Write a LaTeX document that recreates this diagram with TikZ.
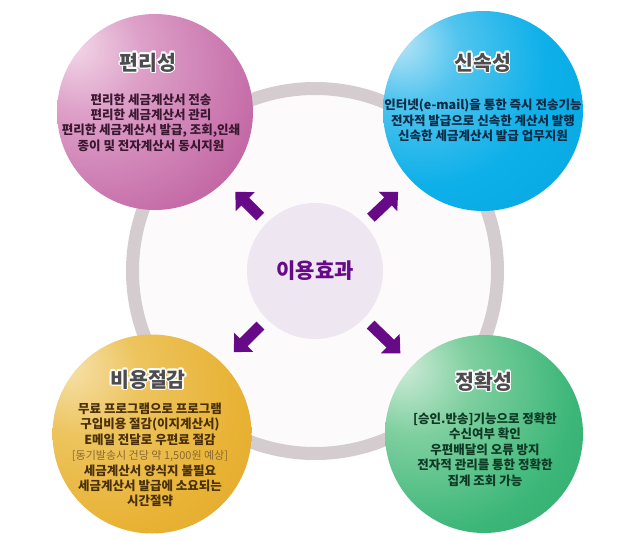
\documentclass[tikz,border=0pt]{standalone}
\usepackage{fontspec}
\setmainfont{Noto Sans CJK KR}
\usepackage{contour}
\contourlength{1.3pt}
\usetikzlibrary{positioning}
\usetikzlibrary{calc}
\usetikzlibrary{arrows.meta}

\definecolor{ringgray}{HTML}{D4CCCF}
\definecolor{ringfill}{HTML}{FDFAFC}
\definecolor{hubfill}{HTML}{EEE6F1}
\definecolor{arrowpurple}{HTML}{660A88}
\definecolor{titlegray}{HTML}{4D4D4F}
\definecolor{pinktext}{HTML}{3A1830}
\definecolor{bluetext}{HTML}{0B2A45}
\definecolor{goldtext}{HTML}{4A3008}
\definecolor{goldfaint}{HTML}{8A6A30}
\definecolor{greentext}{HTML}{0E3A25}

\pgfdeclareradialshading{pinkball}{\pgfpoint{-22bp}{18bp}}{color(0bp)=(rgb,255:red,244;green,218;blue,234); color(15bp)=(rgb,255:red,221;green,160;blue,200); color(35bp)=(rgb,255:red,200;green,115;blue,172); color(55bp)=(rgb,255:red,178;green,68;blue,143); color(70bp)=(rgb,255:red,168;green,53;blue,127); color(85bp)=(rgb,255:red,180;green,80;blue,146)}
\pgfdeclareradialshading{blueball}{\pgfpoint{-22bp}{18bp}}{color(0bp)=(rgb,255:red,190;green,230;blue,247); color(13bp)=(rgb,255:red,80;green,196;blue,238); color(30bp)=(rgb,255:red,14;green,176;blue,233); color(55bp)=(rgb,255:red,4;green,164;blue,223); color(70bp)=(rgb,255:red,10;green,152;blue,210); color(85bp)=(rgb,255:red,20;green,168;blue,220)}
\pgfdeclareradialshading{goldball}{\pgfpoint{-22bp}{18bp}}{color(0bp)=(rgb,255:red,247;green,227;blue,176); color(15bp)=(rgb,255:red,237;green,196;blue,94); color(35bp)=(rgb,255:red,232;green,178;blue,52); color(55bp)=(rgb,255:red,223;green,164;blue,44); color(70bp)=(rgb,255:red,214;green,154;blue,44); color(85bp)=(rgb,255:red,221;green,166;blue,55)}
\pgfdeclareradialshading{greenball}{\pgfpoint{-22bp}{18bp}}{color(0bp)=(rgb,255:red,211;green,237;blue,220); color(15bp)=(rgb,255:red,127;green,207;blue,159); color(35bp)=(rgb,255:red,61;green,183;blue,121); color(55bp)=(rgb,255:red,37;green,167;blue,102); color(70bp)=(rgb,255:red,26;green,154;blue,90); color(85bp)=(rgb,255:red,42;green,168;blue,104)}

\begin{document}
\begin{tikzpicture}[x=1pt, y=1pt,
    ball/.style={circle, minimum size=#1, inner sep=0pt},
    heading/.style={font=\fontsize{20.5}{20.5}\selectfont\bfseries, text=titlegray},
    body/.style={font=\fontsize{12.5}{15.4}\selectfont\bfseries, align=center},
    bigarrow/.style={line width=11pt, draw=arrowpurple, -{Triangle[width=26pt, length=14pt]}, shorten <=9pt}]

    \pgfmathsetmacro{\ringrad}{182.5}

    % Canvas
    \useasboundingbox (0,0) rectangle (639,-540);
    \fill[white] (0,0) rectangle (639,-540);

    % Draw ring
    \draw[ringgray, line width=13pt, fill=ringfill] (315,-271) circle [radius=\ringrad];

    % Draw hub
    \node[circle, fill=hubfill, minimum size=136pt, inner sep=0pt, text=arrowpurple, font=\fontsize{21}{21}\selectfont\bfseries] (hub) at (315,-271) {이용효과};

    % Draw balls
    \node[ball=196pt, shading=pinkball] (conv) at (155,-112) {};
    \node[ball=200pt, shading=blueball] (speed) at (483,-111) {};
    \node[ball=199pt, shading=goldball] (cost) at (152,-434) {};
    \node[ball=198pt, shading=greenball] (accu) at (484,-434) {};

    % Draw arrows
    \draw[bigarrow, shorten >=15pt] (hub) -- (conv);
    \draw[bigarrow, shorten >=17pt] (hub) -- (speed);
    \draw[bigarrow, shorten >=16pt] (hub) -- (cost);
    \draw[bigarrow, shorten >=17pt] (hub) -- (accu);

    % Titles
    \node[heading] (convtitle) at (148,-63) {\contour{white}{편리성}};
    \node[heading] (speedtitle) at (483,-63) {\contour{white}{신속성}};
    \node[heading] (costtitle) at (148,-380) {\contour{white}{비용절감}};
    \node[heading] (accutitle) at (484,-382) {\contour{white}{정확성}};

    % Texts
    \node[body, text=pinktext] (convtext) at (151,-122.5) {편리한 세금계산서 전송\\편리한 세금계산서 관리\\편리한 세금계산서 발급, 조회,인쇄\\종이 및 전자계산서 동시지원};
    \node[body, text=bluetext] (speedtext) at (483,-120.5) {인터넷(e-mail)을 통한 즉시 전송기능\\전자적 발급으로 신속한 계산서 발행\\신속한 세금계산서 발급 업무지원};
    \node[body, text=goldtext] (costtext) at (150,-455) {무료 프로그램으로 프로그램\\구입비용 절감(이지계산서)\\E메일 전달로 우편료 절감\\{\fontsize{11}{15.4}\selectfont\mdseries\color{goldfaint}[동기발송시 건당 약 1,500원 예상]}\\세금계산서 양식지 불필요\\세금계산서 발급에 소요되는\\시간절약};
    \node[body, text=greentext] (accutext) at (485,-449.5) {[승인.반송]기능으로 정확한\\수신여부 확인\\우편배달의 오류 방지\\전자적 관리를 통한 정확한\\집계 조회 가능};

\end{tikzpicture}
\end{document}
